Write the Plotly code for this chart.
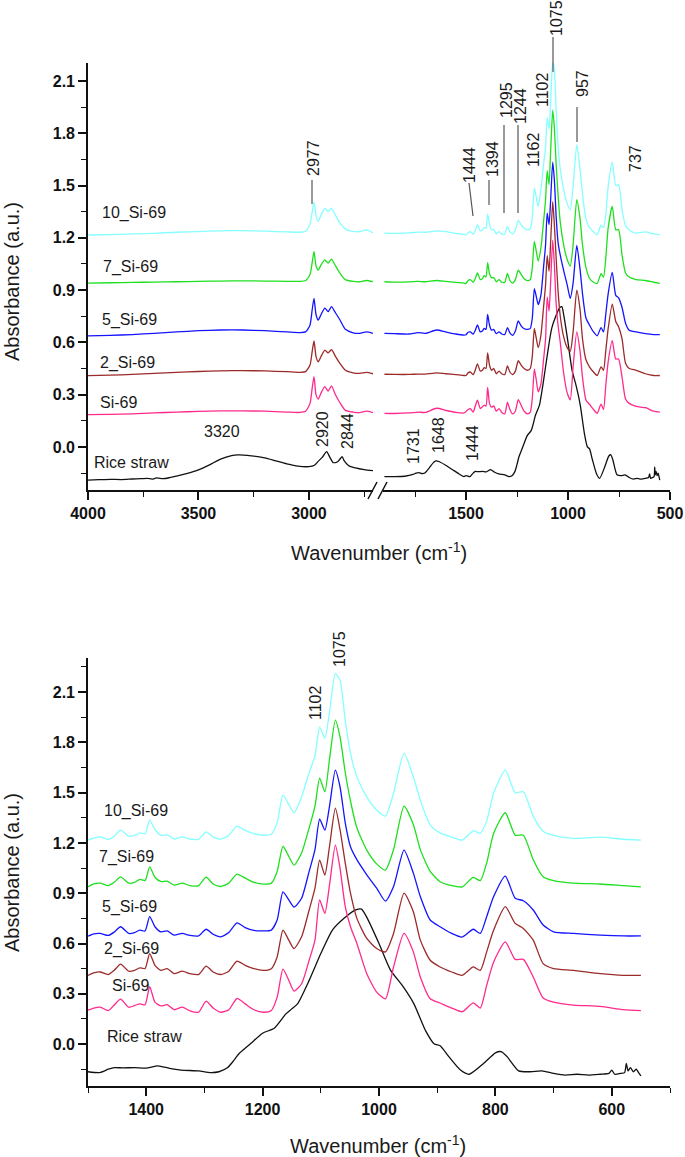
import plotly.graph_objects as go
import numpy as np

W, H = 685, 1157

# ---------------- data ----------------
# common wavenumber grid (cm-1) for the Si-69 treated samples
wn_si = [4000, 3900, 3800, 3700, 3600, 3500, 3400, 3300, 3200, 3100, 3040, 3015, 2995, 2985, 2977,
         2968, 2958, 2945, 2928, 2913, 2898, 2880, 2860, 2835, 2800, 2770, 2740, 2710,
         1900, 1850, 1780, 1735, 1700, 1644, 1600, 1550, 1510,
         1500, 1490, 1479, 1465, 1455, 1444, 1430, 1420, 1411, 1402,
         1394, 1385, 1375, 1364, 1352, 1338, 1325, 1310, 1297, 1285,
         1272, 1258, 1244, 1230, 1215, 1198, 1185, 1175, 1165, 1155,
         1146, 1133, 1120, 1110, 1102, 1093, 1085, 1075, 1067, 1058,
         1049, 1038, 1021, 1004, 989, 975, 957, 941, 929, 912,
         895, 875, 857, 838, 826, 815, 803, 783, 766, 752,
         735, 718, 700, 666, 620, 580, 550]

abs_10 = [1.216, 1.218, 1.222, 1.226, 1.232, 1.236, 1.240, 1.241, 1.238, 1.234, 1.232, 1.238, 1.280, 1.350, 1.405,
          1.330, 1.295, 1.330, 1.370, 1.350, 1.370, 1.330, 1.285, 1.250, 1.237, 1.235, 1.245, 1.228,
          1.227, 1.226, 1.228, 1.233, 1.232, 1.240, 1.235, 1.225, 1.220,
          1.217, 1.228, 1.236, 1.220, 1.240, 1.276, 1.240, 1.245, 1.260, 1.255,
          1.336, 1.280, 1.246, 1.248, 1.223, 1.236, 1.222, 1.222, 1.266, 1.235,
          1.223, 1.245, 1.300, 1.275, 1.255, 1.246, 1.252, 1.320, 1.485, 1.430,
          1.380, 1.475, 1.620, 1.720, 1.890, 1.825, 1.980, 2.210, 2.170, 1.930,
          1.735, 1.594, 1.475, 1.396, 1.360, 1.497, 1.735, 1.594, 1.455, 1.306,
          1.260, 1.235, 1.217, 1.272, 1.258, 1.330, 1.497, 1.634, 1.500, 1.505,
          1.360, 1.270, 1.245, 1.227, 1.234, 1.222, 1.217]

abs_7 = [0.940, 0.942, 0.944, 0.946, 0.948, 0.950, 0.952, 0.953, 0.952, 0.950, 0.950, 0.955, 0.990, 1.060, 1.120,
         1.040, 1.015, 1.045, 1.073, 1.055, 1.078, 1.040, 0.998, 0.960, 0.950, 0.948, 0.955, 0.948,
         0.948, 0.946, 0.947, 0.950, 0.948, 0.955, 0.950, 0.944, 0.940,
         0.938, 0.955, 0.960, 0.945, 0.965, 0.998, 0.960, 0.965, 0.983, 0.975,
         1.057, 0.995, 0.970, 0.972, 0.948, 0.960, 0.945, 0.945, 0.996, 0.955,
         0.940, 0.960, 1.014, 0.990, 0.965, 0.954, 0.960, 1.030, 1.180, 1.120,
         1.067, 1.140, 1.290, 1.420, 1.586, 1.505, 1.700, 1.932, 1.833, 1.620,
         1.450, 1.290, 1.157, 1.075, 1.038, 1.160, 1.419, 1.310, 1.160, 1.030,
         0.968, 0.945, 0.938, 0.994, 0.975, 1.080, 1.258, 1.380, 1.246, 1.246,
         1.100, 0.998, 0.975, 0.960, 0.955, 0.945, 0.938]

abs_5 = [0.637, 0.640, 0.645, 0.652, 0.660, 0.667, 0.671, 0.671, 0.667, 0.660, 0.656, 0.660, 0.700, 0.790, 0.853,
         0.760, 0.728, 0.760, 0.797, 0.776, 0.805, 0.770, 0.730, 0.675, 0.655, 0.652, 0.660, 0.652,
         0.652, 0.650, 0.648, 0.656, 0.652, 0.671, 0.660, 0.648, 0.642,
         0.644, 0.658, 0.660, 0.648, 0.668, 0.700, 0.660, 0.665, 0.680, 0.675,
         0.760, 0.700, 0.670, 0.675, 0.650, 0.660, 0.648, 0.645, 0.685, 0.655,
         0.640, 0.665, 0.723, 0.695, 0.678, 0.675, 0.680, 0.740, 0.908, 0.860,
         0.817, 0.870, 1.030, 1.160, 1.342, 1.276, 1.420, 1.634, 1.535, 1.320,
         1.177, 1.100, 1.010, 0.930, 0.853, 0.940, 1.157, 1.020, 0.880, 0.740,
         0.700, 0.660, 0.638, 0.685, 0.660, 0.760, 0.880, 1.002, 0.870, 0.855,
         0.800, 0.710, 0.670, 0.660, 0.650, 0.645, 0.645]

abs_2 = [0.409, 0.412, 0.416, 0.422, 0.428, 0.433, 0.437, 0.438, 0.436, 0.432, 0.428, 0.432, 0.470, 0.550, 0.608,
         0.520, 0.489, 0.520, 0.556, 0.540, 0.558, 0.520, 0.480, 0.440, 0.425, 0.422, 0.428, 0.420,
         0.417, 0.416, 0.416, 0.418, 0.418, 0.425, 0.420, 0.415, 0.410,
         0.410, 0.425, 0.430, 0.415, 0.440, 0.477, 0.435, 0.440, 0.455, 0.450,
         0.540, 0.470, 0.440, 0.450, 0.420, 0.435, 0.420, 0.415, 0.465, 0.430,
         0.415, 0.435, 0.495, 0.470, 0.450, 0.440, 0.450, 0.520, 0.680, 0.620,
         0.570, 0.640, 0.800, 0.930, 1.097, 1.008, 1.180, 1.407, 1.280, 1.080,
         0.900, 0.750, 0.630, 0.570, 0.550, 0.660, 0.900, 0.790, 0.620, 0.500,
         0.460, 0.430, 0.410, 0.460, 0.440, 0.550, 0.680, 0.820, 0.720, 0.690,
         0.620, 0.480, 0.450, 0.440, 0.420, 0.410, 0.410]

abs_0 = [0.185, 0.187, 0.190, 0.195, 0.200, 0.204, 0.207, 0.207, 0.205, 0.200, 0.198, 0.205, 0.250, 0.340, 0.403,
         0.300, 0.275, 0.310, 0.346, 0.320, 0.350, 0.300, 0.255, 0.210, 0.200, 0.197, 0.205, 0.197,
         0.193, 0.192, 0.195, 0.200, 0.198, 0.222, 0.210, 0.198, 0.195,
         0.203, 0.215, 0.220, 0.200, 0.233, 0.268, 0.220, 0.230, 0.240, 0.235,
         0.342, 0.250, 0.228, 0.235, 0.205, 0.220, 0.198, 0.190, 0.256, 0.215,
         0.190, 0.205, 0.272, 0.240, 0.205, 0.190, 0.200, 0.280, 0.447, 0.380,
         0.316, 0.360, 0.500, 0.620, 0.860, 0.780, 0.950, 1.187, 1.050, 0.820,
         0.700, 0.600, 0.420, 0.310, 0.270, 0.460, 0.660, 0.550, 0.400, 0.270,
         0.245, 0.215, 0.193, 0.246, 0.215, 0.350, 0.490, 0.610, 0.505, 0.505,
         0.400, 0.275, 0.250, 0.233, 0.225, 0.205, 0.200]

# rice straw (own grid)
wn_rs = [4000, 3950, 3900, 3850, 3800, 3760, 3730, 3710, 3690, 3660, 3630, 3600, 3550, 3500, 3450,
         3400, 3350, 3320, 3280, 3200, 3150, 3100, 3050, 3000, 2975, 2960, 2940, 2920, 2905, 2890,
         2870, 2850, 2840, 2820, 2790, 2750, 2710,
         1900, 1850, 1800, 1760, 1745, 1731, 1715, 1700, 1680, 1660, 1648, 1630, 1600, 1570, 1540,
         1520, 1510, 1500, 1480, 1465, 1455, 1440, 1420, 1400, 1380, 1360, 1340, 1310, 1290, 1275,
         1260, 1250, 1240, 1220, 1200, 1180, 1160, 1150, 1140, 1120, 1100, 1080, 1060, 1040, 1030,
         1020, 1000, 980, 960, 940, 920, 905, 895, 880, 860, 845, 820, 800, 790, 780, 760, 740,
         720, 700, 680, 660, 640, 620, 605, 600, 595, 585, 578, 575, 572, 568, 563, 558, 554, 550]
abs_rs = [-0.190, -0.188, -0.186, -0.187, -0.184, -0.182, -0.180, -0.185, -0.178, -0.182, -0.176, -0.168, -0.152, -0.132, -0.103,
          -0.070, -0.050, -0.046, -0.048, -0.063, -0.080, -0.097, -0.110, -0.113, -0.105, -0.085, -0.060, -0.027, -0.060, -0.090,
          -0.085, -0.056, -0.080, -0.108, -0.120, -0.130, -0.136,
          -0.170, -0.170, -0.168, -0.158, -0.150, -0.147, -0.153, -0.148, -0.120, -0.090, -0.080, -0.085, -0.105, -0.128, -0.150,
          -0.165, -0.170, -0.165, -0.170, -0.150, -0.140, -0.142, -0.140, -0.143, -0.130, -0.145, -0.155, -0.160, -0.170, -0.165,
          -0.140, -0.100, -0.055, 0.005, 0.065, 0.095, 0.180, 0.210, 0.240, 0.380, 0.540, 0.680, 0.750, 0.800, 0.805,
          0.750, 0.600, 0.440, 0.350, 0.240, 0.080, 0.000, -0.010, -0.075, -0.155, -0.180, -0.115, -0.052, -0.045, -0.075, -0.160, -0.165,
          -0.160, -0.175, -0.185, -0.180, -0.185, -0.180, -0.175, -0.155, -0.180, -0.175, -0.170, -0.115, -0.160, -0.140, -0.165, -0.150, -0.170, -0.190]

series = [
    ("Rice straw", wn_rs, abs_rs, "#111111"),
    ("Si-69", wn_si, abs_0, "#ff2a8c"),
    ("2_Si-69", wn_si, abs_2, "#9b2a2a"),
    ("5_Si-69", wn_si, abs_5, "#1414ff"),
    ("7_Si-69", wn_si, abs_7, "#1ee01e"),
    ("10_Si-69", wn_si, abs_10, "#85ffff"),
]

yticks = [0.0, 0.3, 0.6, 0.9, 1.2, 1.5, 1.8, 2.1]

# ---------------- figure ----------------
fig = go.Figure()
for name, wn, ab, col in series:
    wn = np.array(wn, dtype=float)
    ab = np.array(ab, dtype=float)
    for xa, ya, m in [("x", "y", wn >= 2700), ("x2", "y", wn <= 1910), ("x3", "y2", wn <= 1500)]:
        fig.add_trace(go.Scatter(x=wn[m], y=ab[m], mode="lines", name=name, xaxis=xa, yaxis=ya,
                                 line=dict(color=col, width=1.3, shape="spline", smoothing=0.6),
                                 showlegend=False, hoverinfo="skip"))

FONT = "Arial, Liberation Sans, sans-serif"
tickfont = dict(family=FONT, size=16, color="#111", weight="bold")
axcommon = dict(showline=True, linecolor="#111", linewidth=1.6, ticks="outside", ticklen=8, tickwidth=1.6,
                tickcolor="#111", showgrid=False, zeroline=False, tickfont=tickfont, automargin=False)

def px(x):
    return x / W

def py(y):
    return 1 - y / H

def minor(vals):
    return dict(tickmode="array", tickvals=vals, ticklen=5, tickwidth=1.4, tickcolor="#111", ticks="outside")

fig.update_layout(
    width=W, height=H, margin=dict(l=0, r=0, t=0, b=0, autoexpand=False),
    paper_bgcolor="white", plot_bgcolor="white", showlegend=False,
    xaxis=dict(domain=[px(88), px(373)], range=[4000, 2710], anchor="y", tickmode="array",
               tickvals=[4000, 3500, 3000], minor=minor([3750, 3250, 2750]), **axcommon),
    xaxis2=dict(domain=[px(383), px(670)], range=[1907, 500], anchor="y", tickmode="array",
                tickvals=[1500, 1000, 500], minor=minor([1750, 1250, 750]), **axcommon),
    yaxis=dict(domain=[py(490), py(63)], range=[-0.247, 2.203], anchor="x", tickmode="array",
               tickvals=yticks, ticktext=[f"{v:.1f}" for v in yticks],
               minor=minor([v - 0.15 for v in yticks]), **axcommon),
    xaxis3=dict(domain=[px(88), px(670)], range=[1500, 500], anchor="y2", tickmode="array",
                tickvals=[1400, 1200, 1000, 800, 600],
                minor=minor([1500, 1300, 1100, 900, 700, 500]), **axcommon),
    yaxis2=dict(domain=[py(1086), py(658)], range=[-0.25, 2.303], anchor="x3", tickmode="array",
                tickvals=yticks, ticktext=[f"{v:.1f}" for v in yticks],
                minor=minor([v - 0.15 for v in yticks] + [2.25]), **axcommon),
)

TXT = "#1a1a1a"

def label(text, x, y, size=16, angle=0, xanchor="left"):
    fig.add_annotation(text=text, x=px(x), y=py(y), xref="paper", yref="paper", showarrow=False,
                       textangle=angle, xanchor=xanchor, yanchor="middle",
                       font=dict(family=FONT, size=size, color=TXT))

def leader(x0, y0, x1, y1):
    fig.add_shape(type="line", xref="paper", yref="paper", x0=px(x0), y0=py(y0), x1=px(x1), y1=py(y1),
                  line=dict(color="#555", width=1.2))

# series labels (top panel)
for t, x, y in [("10_Si-69", 100, 213), ("7_Si-69", 101, 267), ("5_Si-69", 100, 320),
                ("2_Si-69", 98, 363), ("Si-69", 98, 402), ("Rice straw", 92, 462)]:
    label(t, x, y)
# series labels (bottom panel)
for t, x, y in [("10_Si-69", 102, 811), ("7_Si-69", 97, 857), ("5_Si-69", 100, 907),
                ("2_Si-69", 102, 949), ("Si-69", 110, 985), ("Rice straw", 105, 1036)]:
    label(t, x, y)

# peak labels top panel
label("3320", 222, 432, xanchor="center")
for t, x, y in [("2977", 313, 158), ("2920", 322, 429), ("2844", 347, 431), ("1731", 413, 446),
                ("1648", 438, 435), ("1444", 473, 443), ("1444", 470, 165), ("1394", 492, 159),
                ("1295", 507, 100), ("1244", 520, 106), ("1162", 533, 150), ("1102", 543, 90),
                ("1075", 557, 18), ("957", 582, 84), ("737", 635, 159)]:
    label(t, x, y, angle=-90, xanchor="center")
leader(312, 180, 312, 204)
leader(469, 183, 473, 216)
leader(489, 180, 489, 205)
leader(504, 125, 504, 213)
leader(518, 125, 518, 213)
leader(553, 37, 553, 72)
leader(577, 107, 577, 142)

# peak labels bottom panel
label("1102", 315, 703, angle=-90, xanchor="center")
label("1075", 339, 649, angle=-90, xanchor="center")

# axis titles
label("Absorbance (a.u.)", 12, 282, size=20, angle=-90, xanchor="center")
label("Absorbance (a.u.)", 12, 873, size=20, angle=-90, xanchor="center")
label("Wavenumber (cm<sup>-1</sup>)", 379, 551, size=20, xanchor="center")
label("Wavenumber (cm<sup>-1</sup>)", 378, 1144, size=20, xanchor="center")

# axis break marks
for x0 in (368, 378):
    fig.add_shape(type="line", xref="paper", yref="paper", x0=px(x0), y0=py(499), x1=px(x0 + 9), y1=py(482),
                  line=dict(color="#111", width=1.5))

fig.write_html("out.html", config={"displayModeBar": False},
               post_script="document.body.style.margin='0';document.body.style.overflow='hidden';")
